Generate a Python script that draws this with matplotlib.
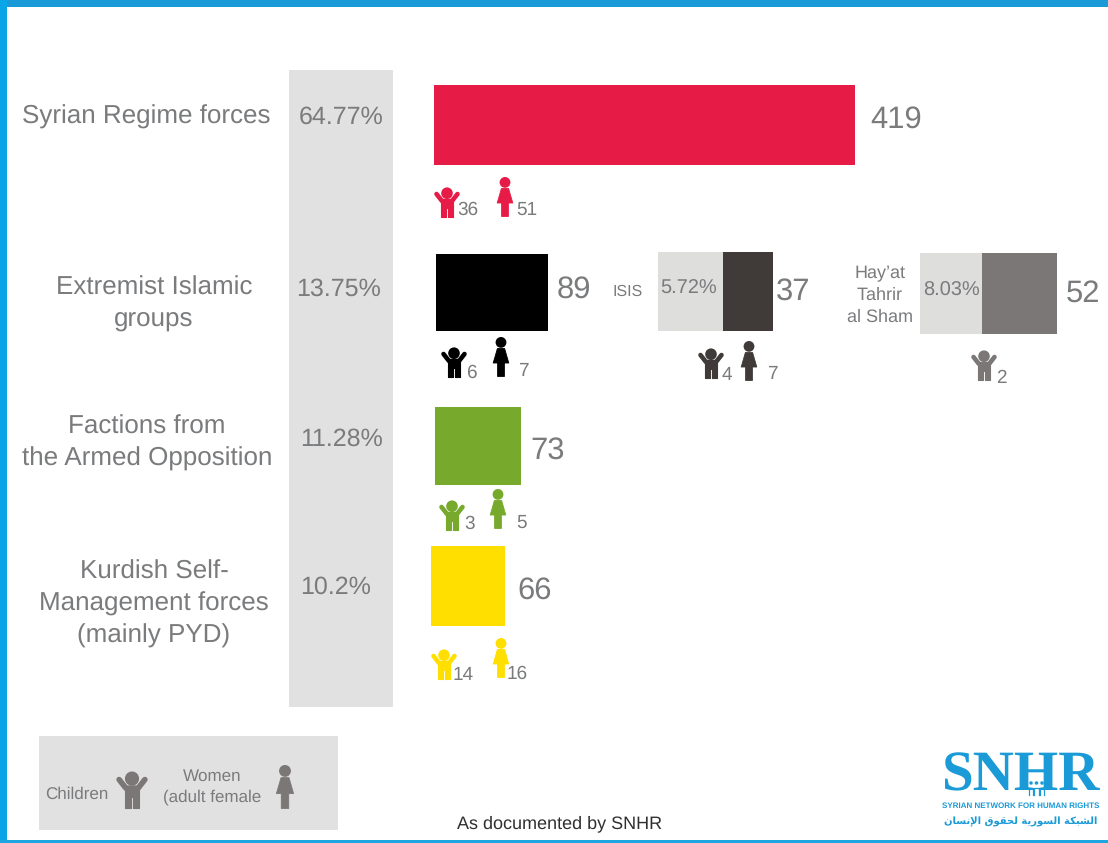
import numpy as np
import matplotlib
matplotlib.use("Agg")
import matplotlib.pyplot as plt
from matplotlib.patches import Rectangle, Circle, Polygon
from matplotlib.lines import Line2D

# ---- data ----
groups = ["Syrian Regime forces", "Extremist Islamic\ngroups",
          "Factions from\nthe Armed Opposition", "Kurdish Self-\nManagement forces\n(mainly PYD)"]
shares = ["64.77%", "13.75%", "11.28%", "10.2%"]
totals = [419, 89, 73, 66]
children = [36, 6, 3, 14]
women = [51, 7, 5, 16]
colors = ["#e61c46", "#000000", "#77a92d", "#ffdf00"]

sub_groups = ["ISIS", "Hay\u2019at\nTahrir\nal Sham"]
sub_shares = ["5.72%", "8.03%"]
sub_totals = [37, 52]
sub_children = [4, 2]
sub_women = [7, None]
sub_colors = ["#403b38", "#7b7776"]

W, H = 1108, 843
GREY = "#7a7b7d"
PANEL = "#e2e1e1"
BLUE = "#1a9ad6"
plt.rcParams["font.family"] = "Liberation Sans"
plt.rcParams["text.hinting"] = "no_hinting"
plt.rcParams["text.hinting_factor"] = 1

fig = plt.figure(figsize=(W / 100, H / 100), dpi=100, facecolor="white")
ax = fig.add_axes([0, 0, 1, 1])
ax.set_xlim(0, W)
ax.set_ylim(H, 0)
ax.axis("off")

# non-proportional bar length of the infographic, as a value -> pixel scale
MAIN_V, MAIN_P = [0, 66, 73, 89, 419, 500], [0, 74, 86, 112, 421, 502]
SUB_V, SUB_P = [0, 37, 52, 100], [0, 50, 75, 123]


def bar(value, color, left, top, bottom, kv, kp):
    fwd = lambda v: np.interp(v, kv, kp)
    inv = lambda p: np.interp(p, kp, kv)
    span = kp[-1]
    a = fig.add_axes([left / W, 1 - bottom / H, span / W, (bottom - top) / H])
    a.set_xscale("function", functions=(fwd, inv))
    a.set_xlim(0, kv[-1])
    a.set_ylim(-0.5, 0.5)
    a.axis("off")
    a.patch.set_visible(False)
    a.barh(0, value, height=1, color=color, linewidth=0)


def child(cx, top, h, color):
    s = h / 31
    ax.add_patch(Circle((cx, top + 6.2 * s), 5.8 * s, fc=color, ec="none"))
    ax.add_line(Line2D([cx - 10.5 * s, cx - 5 * s, cx + 5 * s, cx + 10.5 * s],
                       [top + 7 * s, top + 14 * s, top + 14 * s, top + 7 * s],
                       color=color, lw=4.6 * s * 0.72, solid_joinstyle="round",
                       solid_capstyle="round"))
    pts = [(-5.6, 12.5), (5.6, 12.5), (5.6, 30), (0.7, 30), (0.7, 21), (-0.7, 21), (-0.7, 30), (-5.6, 30)]
    ax.add_patch(Polygon([(cx + x * s, top + y * s) for x, y in pts], closed=True,
                         fc=color, ec=color, lw=0.8, joinstyle="round"))


def woman(cx, top, h, color):
    s = h / 40
    ax.add_patch(Circle((cx, top + 5.4 * s), 5.4 * s, fc=color, ec="none"))
    pts = [(-3.6, 11.5), (3.6, 11.5), (7.8, 26), (3.4, 26), (3.4, 39.5), (-3.4, 39.5),
           (-3.4, 26), (-7.8, 26)]
    ax.add_patch(Polygon([(cx + x * s, top + y * s) for x, y in pts], closed=True,
                         fc=color, ec=color, lw=0.6, joinstyle="round"))


def txt(x, y, s, size, ha="left", color=GREY, **kw):
    ax.text(x, y + 2, s, fontsize=size, ha=ha, va="center", color=color, **kw)


# frame
ax.add_patch(Rectangle((0, 0), W, 7, fc=BLUE, ec="none"))
ax.add_patch(Rectangle((0, 0), 7, H, fc="#0aa5e6", ec="none"))
ax.add_patch(Rectangle((0, 840), W, 3, fc="#1fa6e0", ec="none"))

# share column and legend box
ax.add_patch(Rectangle((289, 70), 104, 637, fc=PANEL, ec="none"))
ax.add_patch(Rectangle((39, 736), 299, 94, fc=PANEL, ec="none"))

# rows
label_xy = [(146, 115), (154, 302), (147, 441), (154, 602)]
share_xy = [(341, 115), (339, 287), (342, 437), (336, 585)]
bar_geo = [(434, 85, 165), (436, 254, 331), (435, 407, 485), (431, 546, 626)]
total_xy = [(870, 118), (557, 288), (530, 449), (517, 589)]
child_geo = [(447, 187, (457, 208)), (454, 347, (466, 371)), (452, 500, (464, 522)), (444, 649, (453, 673))]
woman_geo = [(505, 177, (516, 208)), (501, 337, (518, 369)), (498, 489, (516, 521)), (501, 638, (507, 672))]

for i, name in enumerate(groups):
    txt(*label_xy[i], name, 19, ha="center", linespacing=1.39, multialignment="center")
    txt(*share_xy[i], shares[i], 18, ha="center")
    bar(totals[i], colors[i], *bar_geo[i], MAIN_V, MAIN_P)
    txt(*total_xy[i], str(totals[i]), 22.5)
    cx, top, pos = child_geo[i]
    child(cx, top, 31, colors[i])
    txt(*pos, str(children[i]), 14)
    cx, top, pos = woman_geo[i]
    woman(cx, top, 40, colors[i])
    txt(*pos, str(women[i]), 14)

# sub-groups of the extremist row
sub_label_xy = [(628, 290), (880, 293)]
sub_panel = [(658, 252, 65, 79), (920, 253, 62, 81)]
sub_share_xy = [(689, 287), (951, 289)]
sub_bar = [(723, 252, 331), (982, 253, 334)]
sub_total_xy = [(776, 290), (1066, 292)]
sub_child = [(711, 348, (722, 373)), (984, 350, (996, 376))]
sub_woman = [(749, 341, (767, 372)), None]
for i, name in enumerate(sub_groups):
    txt(*sub_label_xy[i], name, 13.2 if i else 11.5, ha="center", linespacing=1.38, multialignment="center")
    ax.add_patch(Rectangle(sub_panel[i][:2], sub_panel[i][2], sub_panel[i][3], fc="#dededd", ec="none"))
    txt(*sub_share_xy[i], sub_shares[i], 14.3, ha="center")
    bar(sub_totals[i], sub_colors[i], *sub_bar[i], SUB_V, SUB_P)
    txt(*sub_total_xy[i], str(sub_totals[i]), 22.5)
    cx, top, pos = sub_child[i]
    child(cx, top, 31, sub_colors[i])
    txt(*pos, str(sub_children[i]), 14)
    if sub_women[i] is not None:
        cx, top, pos = sub_woman[i]
        woman(cx, top, 40, sub_colors[i])
        txt(*pos, str(sub_women[i]), 14)

# legend
txt(45, 792, "Children", 12)
child(132, 771, 38, "#7b7776")
txt(212, 785, "Women\n(adult female", 12, ha="center", linespacing=1.4, multialignment="center")
woman(285, 765, 44, "#7b7776")

# footer and logo
txt(560, 822, "As documented by SNHR", 13, ha="center", color="#2f2f2f")
ax.text(1021, 777, "SNHR", fontsize=41, fontweight="bold", family="Liberation Serif",
        ha="center", va="center", color=BLUE)
for fx in (1031, 1036.5, 1042):
    ax.add_patch(Circle((fx, 783), 2, fc=BLUE, ec="white", lw=0.3))
    ax.add_line(Line2D([fx - 2.2, fx - 2.2, fx + 2.2, fx + 2.2], [795, 787.5, 787.5, 795], color=BLUE, lw=0.9))
txt(1021, 804, "SYRIAN NETWORK FOR HUMAN RIGHTS", 6, ha="center", color=BLUE, fontweight="bold")
arabic = ("\ufe8d\ufedf\ufeb8\ufe92\ufedc\ufe94 \ufe8d\ufedf\ufeb4\ufeee\ufead\ufef3\ufe94 "
          "\ufedf\ufea4\ufed8\ufeee\ufed5 \ufe8d\ufef9\ufee7\ufeb4\ufe8e\ufee5")[::-1]
ax.text(1021, 822, arabic, fontsize=7.5, family="DejaVu Sans", fontweight="bold",
        ha="center", va="center", color=BLUE)

fig.savefig("out.png", dpi=100, facecolor="white")
